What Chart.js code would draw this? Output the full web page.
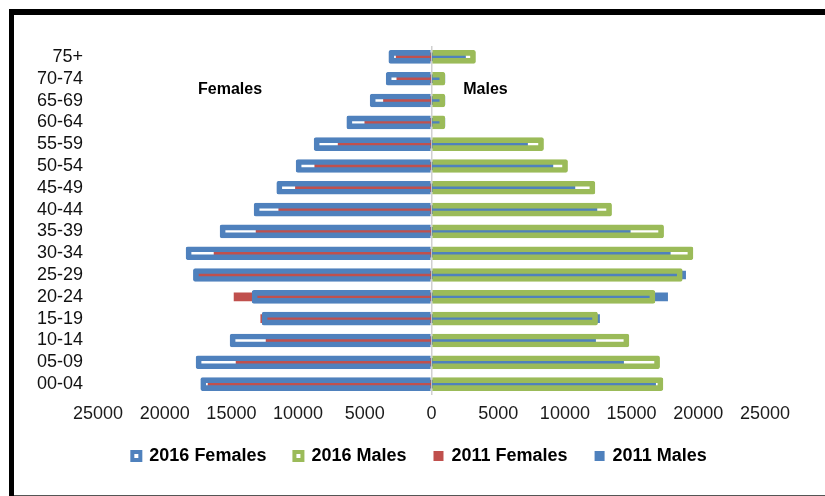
<!DOCTYPE html>
<html lang="en">
<head>
    <meta charset="utf-8" />
    <title>Population by age group, 2011 and 2016</title>
    <script src="https://cdn.jsdelivr.net/npm/chart.js"></script>
    <style>
        html, body { margin: 0; padding: 0; background: #fff; }
        #wrap { position: relative; width: 825px; height: 496px; overflow: hidden; }
        #chart { position: absolute; left: 0; top: 0; }
        /* frame around the chart area */
        .frame-top { position: absolute; left: 9px; top: 9px; width: 830px; height: 6px; background: #000; border-top-left-radius: 3px; }
        .frame-left { position: absolute; left: 9px; top: 9px; width: 5px; height: 490px; background: #000; }
        .frame-bottom { position: absolute; left: 14px; top: 495px; width: 820px; height: 1px; background: #555; }
    </style>
</head>
<body>
<div id="wrap">
    <canvas id="chart" width="825" height="496"></canvas>
    <div class="frame-top"></div>
    <div class="frame-left"></div>
    <div class="frame-bottom"></div>
</div>

<script>
    // Age groups, oldest at the top
    const ageGroups = ['75+', '70-74', '65-69', '60-64', '55-59', '50-54', '45-49', '40-44',
                       '35-39', '30-34', '25-29', '20-24', '15-19', '10-14', '05-09', '00-04'];

    const females2016 = [3200, 3400, 4600, 6350, 8800, 10150, 11600, 13300,
                         15850, 18400, 17850, 13450, 12700, 15100, 17650, 17300];
    const males2016   = [3300, 1000, 1000, 1000, 8400, 10200, 12250, 13500,
                         17400, 19600, 18800, 16750, 12450, 14800, 17100, 17350];
    const females2011 = [2650, 2600, 3600, 5000, 7000, 8750, 10200, 11450,
                         13150, 16300, 17750, 14800, 12800, 12400, 14650, 16750];
    const males2011   = [2550, 1000, 1000, 1000, 7200, 9100, 10750, 12400,
                         14900, 17900, 19050, 17700, 12600, 12300, 14400, 16800];

    const BLUE = '#4F81BD', GREEN = '#9BBB59', RED = '#C0504D';
    const FONT = '"Liberation Sans", Arial, sans-serif';

    // "Females" / "Males" captions placed with the scales
    const sideLabels = {
        id: 'sideLabels',
        afterDatasetsDraw(chart) {
            const { ctx, scales: { x, y } } = chart;
            const yMid = (y.getPixelForValue(1) + y.getPixelForValue(2)) / 2;
            ctx.save();
            ctx.font = 'bold 16px ' + FONT;
            ctx.fillStyle = '#000';
            ctx.textAlign = 'center';
            ctx.textBaseline = 'middle';
            ctx.fillText('Females', x.getPixelForValue(-15100), yMid);
            ctx.fillText('Males', x.getPixelForValue(4050), yMid);
            ctx.restore();
        }
    };

    // legend row sits a little right of the canvas centre
    const legendShift = {
        id: 'legendShift',
        afterLayout(chart) {
            chart.legend.left += 37;
            chart.legend.right += 37;
        }
    };

    // 2016 = hollow outlined bars on top, 2011 = thin solid bars underneath
    const outline = { barThickness: 13, borderWidth: 5, borderSkipped: 'start',
                      borderRadius: 2, backgroundColor: 'rgba(0,0,0,0)' };
    const solid = { barThickness: 8, borderWidth: 0 };

    new Chart(document.getElementById('chart'), {
        type: 'bar',
        data: {
            labels: ageGroups,
            datasets: [
                { label: '2016 Females', data: females2016.map(v => -v), borderColor: BLUE, ...outline },
                { label: '2016 Males', data: males2016, borderColor: GREEN, ...outline },
                { label: '2011 Females', data: females2011.map(v => -v), backgroundColor: RED, ...solid },
                { label: '2011 Males', data: males2011, backgroundColor: BLUE, ...solid }
            ]
        },
        options: {
            indexAxis: 'y',
            responsive: false,
            animation: false,
            layout: { padding: { top: 46, right: 60, bottom: 21, left: 0 } },
            datasets: { bar: { grouped: false } },
            scales: {
                x: {
                    min: -25000, max: 25000,
                    border: { display: false },
                    grid: {
                        drawTicks: false,
                        color: c => (c.tick && c.tick.value === 0) ? '#D0D0D0' : 'rgba(0,0,0,0)',
                        lineWidth: 1.5
                    },
                    ticks: {
                        stepSize: 5000,
                        padding: 8,
                        color: '#1a1a1a',
                        font: { family: FONT, size: 18 },
                        maxRotation: 0,
                        callback: v => Math.abs(v)
                    },
                    afterFit: s => { s.height = 24; }
                },
                y: {
                    border: { display: false },
                    grid: { display: false, drawTicks: false },
                    ticks: { autoSkip: false, padding: 15, color: '#111', font: { family: FONT, size: 18 } },
                    afterFit: s => { s.width = 98; }
                }
            },
            plugins: {
                tooltip: { enabled: false },
                legend: {
                    position: 'bottom',
                    labels: {
                        boxWidth: 8,
                        boxHeight: 8,
                        padding: 28,
                        color: '#000',
                        font: { family: FONT, size: 18, weight: 'bold' },
                        generateLabels(chart) {
                            const items = Chart.defaults.plugins.legend.labels.generateLabels(chart);
                            items.forEach((it, i) => {
                                const ds = chart.data.datasets[i];
                                if (i < 2) {
                                    it.fillStyle = '#fff';
                                    it.strokeStyle = ds.borderColor;
                                    it.lineWidth = 4;
                                } else {
                                    it.fillStyle = ds.backgroundColor;
                                    it.strokeStyle = ds.backgroundColor;
                                    it.lineWidth = 2;
                                }
                            });
                            return items;
                        }
                    }
                }
            }
        },
        plugins: [sideLabels, legendShift]
    });
</script>
</body>
</html>
